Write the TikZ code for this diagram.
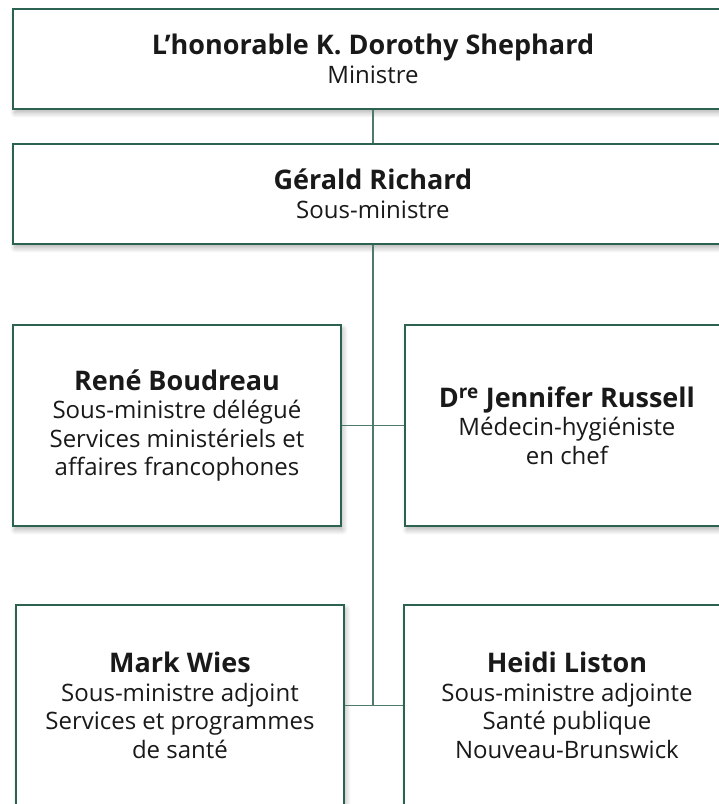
\documentclass[tikz,border=0pt]{standalone}
\usepackage{fontspec}
\setmainfont{Open Sans}
\usetikzlibrary{shadows.blur}
\definecolor{orggreen}{RGB}{44,98,82}
\definecolor{linkgreen}{RGB}{78,122,108}
\newcommand{\who}[1]{{\fontsize{27}{31}\selectfont\bfseries #1}}

\begin{document}
\begin{tikzpicture}[x=1pt,y=-1pt,
    post/.style={draw=orggreen, line width=1.9pt, fill=white, rectangle, anchor=north west, align=center, inner sep=0pt, text=black!90,
      font=\fontsize{24}{28.5}\selectfont,
      blur shadow={shadow xshift=2pt, shadow yshift=-4pt, shadow blur radius=5pt, shadow blur steps=10, shadow opacity=30}},
    link/.style={draw=linkgreen, line width=1.6pt}]
    \useasboundingbox (0,0) rectangle (719,804);

    % Ministre et sous-ministre
    \node[post, minimum width=720pt, minimum height=100pt] (shephard) at (12,8) {\who{L’honorable K. Dorothy Shephard}\\Ministre};
    \node[post, minimum width=720pt, minimum height=100pt] (richard) at (12,143) {\who{Gérald Richard}\\Sous-ministre};

    % Premier niveau
    \node[post, minimum width=328pt, minimum height=201pt] (boudreau) at (12,324) {\who{René Boudreau}\\Sous-ministre délégué\\Services ministériels et\\affaires francophones};
    \node[post, minimum width=324pt, minimum height=201pt] (russell) at (404,324) {\who{D\textsuperscript{re} Jennifer Russell}\\Médecin-hygiéniste\\en chef};

    % Second niveau
    \node[post, minimum width=328pt, minimum height=201pt] (wies) at (15,604) {\who{Mark Wies}\\Sous-ministre adjoint\\Services et programmes\\de santé};
    \node[post, minimum width=326pt, minimum height=201pt] (liston) at (403,604) {\who{Heidi Liston}\\Sous-ministre adjointe\\Santé publique\\Nouveau-Brunswick};

    \coordinate (spine) at (richard.south |- wies.east);

    \draw[link] (shephard.south) -- (richard.north);
    \draw[link] (richard.south) -- (spine);
    \draw[link] (boudreau.east) -- (russell.west);
    \draw[link] (wies.east) -- (liston.west);

\end{tikzpicture}
\end{document}
